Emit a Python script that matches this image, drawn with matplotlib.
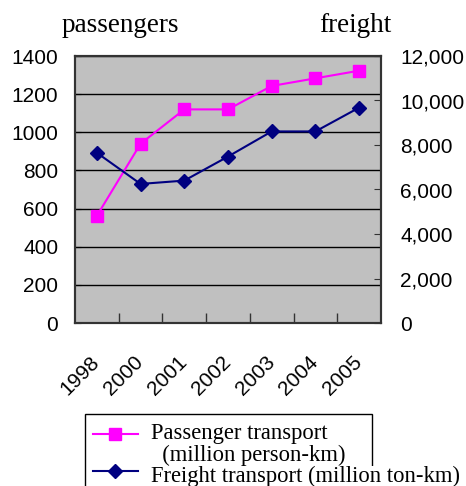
import matplotlib
matplotlib.use("Agg")
import matplotlib.pyplot as plt
from matplotlib.ticker import FuncFormatter, FixedLocator
from matplotlib.lines import Line2D
from matplotlib.patches import Rectangle

years = ["1998", "2000", "2001", "2002", "2003", "2004", "2005"]
passengers = [562, 940, 1120, 1120, 1243, 1283, 1323]
freight = [7650, 6250, 6400, 7480, 8610, 8610, 9680]
left_ticks = [0, 200, 400, 600, 800, 1000, 1200, 1400]
right_ticks = [0, 2000, 4000, 6000, 8000, 10000, 12000]
legend_labels = ["Passenger transport", "  (million person-km)",
                 "Freight transport (million ton-km)"]

W, H = 466, 486
fig = plt.figure(figsize=(W / 100, H / 100), dpi=100)
ax = fig.add_axes([75 / W, 1 - 323 / H, (381 - 75) / W, (323 - 56) / H])
ax.set_facecolor("#C0C0C0")
ax2 = ax.twinx()

PINK = "#FF00FF"
NAVY = "#000080"
x = list(range(len(years)))
ax.plot(x, passengers, color=PINK, marker="s", markersize=8.5, lw=1.5,
        markeredgecolor=PINK, zorder=3, clip_on=False)
ax2.plot(x, freight, color=NAVY, marker="D", markersize=7.5, lw=1.5,
         markeredgecolor=NAVY, zorder=3, clip_on=False)

ax.set_xlim(-0.5, len(years) - 0.5)
ax.set_ylim(0, 1400)
ax2.set_ylim(0, 12000)
ax.set_yticks(left_ticks)
ax2.set_yticks(right_ticks)
ax2.yaxis.set_major_formatter(FuncFormatter(lambda v, p: f"{int(v):,}"))
ax.grid(axis="y", color="black", lw=1)
ax.set_axisbelow(True)

ax.set_xticks(x)
ax.set_xticklabels(years, rotation=45, ha="right", va="center", rotation_mode="anchor")
ax.xaxis.set_minor_locator(FixedLocator([i + 0.5 for i in range(len(years) - 1)]))
ax.tick_params(axis="x", which="major", length=0, pad=26)
ax.tick_params(axis="x", which="minor", direction="in", length=7, width=1, color="#333333")
ax.tick_params(axis="y", direction="in", length=4, pad=12)
ax2.tick_params(axis="y", direction="in", length=5, pad=14, color="#333333")

sans = "Liberation Sans"
serif = "Liberation Serif"
for lab in ax.get_yticklabels() + ax2.get_yticklabels():
    lab.set_fontfamily(sans)
    lab.set_fontsize(15)
for lab in ax.get_xticklabels():
    lab.set_fontfamily(sans)
    lab.set_fontsize(15)

for a in (ax, ax2):
    for s in a.spines.values():
        s.set_color("#333333")
        s.set_linewidth(1.5)

fig.text(120 / W, 1 - 32 / H, "passengers", fontfamily=serif, fontsize=19.5,
         ha="center", va="baseline")
fig.text(355 / W, 1 - 32 / H, "freight", fontfamily=serif, fontsize=19.5,
         ha="center", va="baseline")

# legend drawn by hand (box is narrower than its text, as in the reference)
def fx(px):
    return px / W

def fy(py):
    return 1 - py / H

fig.add_artist(Rectangle((fx(85), fy(500)), fx(372) - fx(85), fy(414) - fy(500),
                         transform=fig.transFigure, fill=False,
                         edgecolor="black", lw=1, zorder=1))
fig.add_artist(Line2D([fx(93), fx(138)], [fy(434), fy(434)], color=PINK, lw=1.5,
                      transform=fig.transFigure))
fig.add_artist(Line2D([fx(115)], [fy(434)], color=PINK, marker="s", markersize=8,
                      transform=fig.transFigure))
fig.add_artist(Line2D([fx(93), fx(138)], [fy(471), fy(471)], color=NAVY, lw=1.5,
                      transform=fig.transFigure))
fig.add_artist(Line2D([fx(115)], [fy(471)], color=NAVY, marker="D", markersize=7,
                      transform=fig.transFigure))
for txt, bl in zip(legend_labels, [439, 461, 482]):
    fig.text(fx(151), fy(bl), txt, fontfamily=serif, fontsize=16.3,
             ha="left", va="baseline", zorder=3,
             bbox=dict(facecolor="white", edgecolor="none", pad=0))

fig.savefig("out.png", dpi=100)
